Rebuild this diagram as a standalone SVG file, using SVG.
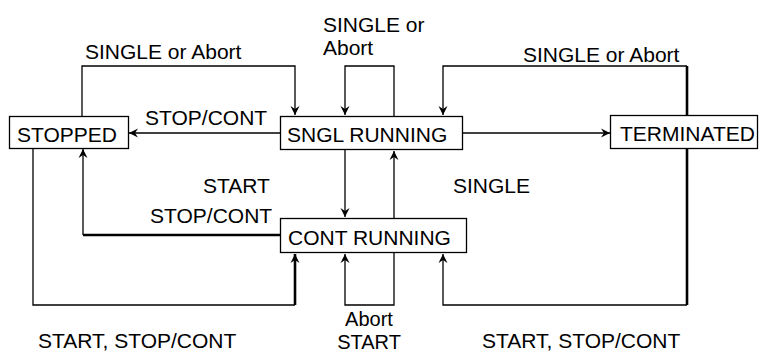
<svg xmlns="http://www.w3.org/2000/svg" width="760" height="354" viewBox="0 0 760 354">
<style>
.box{fill:#fff;stroke:#000;stroke-width:1.3}
.t{font-family:"Liberation Sans",Arial,sans-serif;font-size:21px;fill:#000}
.s{font-size:20px}
.c{fill:none;stroke:#000;stroke-width:1.3}
.k{fill:none;stroke:#000;stroke-width:2.6}
</style>
<defs>
<marker id="ar" markerUnits="userSpaceOnUse" markerWidth="12" markerHeight="12" viewBox="-10 -6 12 12" refX="0" refY="0" orient="auto">
<path d="M0,0 L-9,-4.5 L-6,0 L-9,4.5 Z" fill="#000"/>
</marker>
</defs>
<rect width="760" height="354" fill="#fff"/>
<g id="connectors">
<path class="c" d="M82,116 V66 H295 V115" marker-end="url(#ar)"/>
<path class="c" d="M394,116 V66 H345 V115" marker-end="url(#ar)"/>
<path class="k" d="M687,115 V66"/>
<path class="c" d="M687,66 H443 V115" marker-end="url(#ar)"/>
<path class="c" d="M280,133 H129" marker-end="url(#ar)"/>
<path class="c" d="M462,133 H610" marker-end="url(#ar)"/>
<path class="c" d="M345,150 V217" marker-end="url(#ar)"/>
<path class="c" d="M394,218 V151" marker-end="url(#ar)"/>
<path class="k" d="M280,235 H83"/>
<path class="c" d="M83,235 V149" marker-end="url(#ar)"/>
<path class="c" d="M33,148 V305 H295"/>
<path class="k" d="M295,305 V254" marker-end="url(#ar)"/>
<path class="c" d="M394,253 V305 H345 V254" marker-end="url(#ar)"/>
<path class="k" d="M687,149 V305"/>
<path class="c" d="M687,305 H443 V254" marker-end="url(#ar)"/>
</g>
<g id="labels">
<text class="t" x="85" y="59">SINGLE or Abort</text>
<text class="t" x="323" y="32">SINGLE or</text>
<text class="t" x="323" y="55">Abort</text>
<text class="t" x="523" y="62">SINGLE or Abort</text>
<text class="t" x="145" y="125">STOP/CONT</text>
<text class="t" x="203" y="193">START</text>
<text class="t" x="150" y="223">STOP/CONT</text>
<text class="t" x="453" y="193">SINGLE</text>
<text class="t" x="38" y="348">START, STOP/CONT</text>
<text class="t s" x="369" y="326" text-anchor="middle">Abort</text>
<text class="t s" x="369" y="349" text-anchor="middle">START</text>
<text class="t" x="482" y="348">START, STOP/CONT</text>
</g>
<g id="stopped">
<rect class="box" x="9.5" y="116.5" width="119" height="32"/>
<text class="t" x="17" y="142">STOPPED</text>
</g>
<g id="sngl-running">
<rect class="box" x="280.5" y="116.5" width="182" height="33"/>
<text class="t" x="287" y="142">SNGL RUNNING</text>
</g>
<g id="terminated">
<rect class="box" x="610.5" y="115.5" width="147" height="33"/>
<text class="t" x="620" y="141">TERMINATED</text>
</g>
<g id="cont-running">
<rect class="box" x="280.5" y="218.5" width="186" height="34"/>
<text class="t" x="288" y="245">CONT RUNNING</text>
</g>
</svg>
